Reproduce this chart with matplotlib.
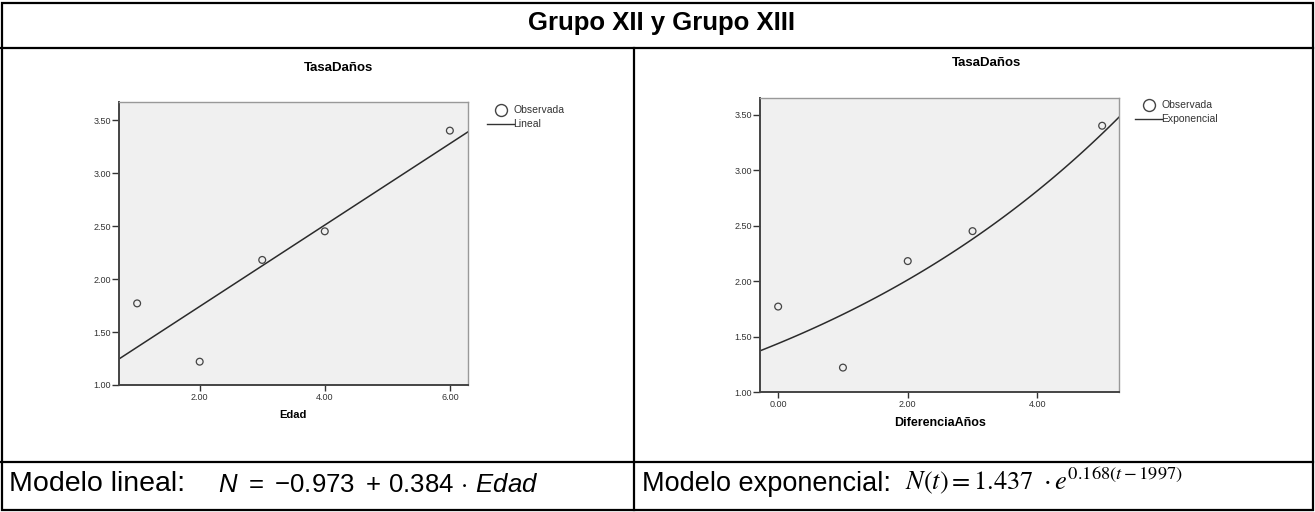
import numpy as np
import matplotlib
matplotlib.use("Agg")
import matplotlib.pyplot as plt
from matplotlib.lines import Line2D
from matplotlib.patches import Rectangle

# Observed damage rate and the two predictors
edad = [1, 2, 3, 4, 6]
diferencia_anos = [0, 1, 2, 3, 5]
tasa_danos = [1.77, 1.22, 2.18, 2.45, 3.40]

# Fitted models
lin_intercept, lin_slope = 0.973, 0.384
exp_a, exp_b = 1.437, 0.168

left_xticks = [2, 4, 6]
right_xticks = [0, 2, 4]
yticks = [1.0, 1.5, 2.0, 2.5, 3.0, 3.5]

W, H = 1315, 512
plt.rcParams["font.family"] = ["Liberation Sans", "DejaVu Sans"]
plt.rcParams["mathtext.fontset"] = "custom"
plt.rcParams["mathtext.rm"] = "Liberation Sans"
plt.rcParams["mathtext.it"] = "Liberation Sans:italic"

fig = plt.figure(figsize=(W / 100, H / 100), dpi=100)


def fx(x):
    return x / W


def fy(y):
    return 1 - y / H


def box(x0, y0, x1, y1):
    return [fx(x0), fy(y1), fx(x1) - fx(x0), fy(y0) - fy(y1)]


# Table frame
fig.add_artist(Rectangle((fx(1.5), fy(509.5)), fx(1311), fy(3) - fy(509.5),
                         transform=fig.transFigure, fill=False,
                         edgecolor="black", linewidth=1.6))
fig.add_artist(Line2D([fx(1), fx(1313)], [fy(48), fy(48)], color="black", lw=1.6))
fig.add_artist(Line2D([fx(1), fx(1313)], [fy(462), fy(462)], color="black", lw=1.6))
fig.add_artist(Line2D([fx(634), fx(634)], [fy(48), fy(510)], color="black", lw=1.6))

fig.text(fx(661), fy(23), "Grupo XII y Grupo XIII", ha="center", va="center",
         fontsize=18.5, fontweight="bold")


def style_axes(ax, xlim, ylim, xticks):
    ax.set_facecolor("#f0f0f0")
    ax.set_xlim(*xlim)
    ax.set_ylim(*ylim)
    ax.set_xticks(xticks)
    ax.set_yticks(yticks)
    ax.xaxis.set_major_formatter(matplotlib.ticker.FormatStrFormatter("%.2f"))
    ax.yaxis.set_major_formatter(matplotlib.ticker.FormatStrFormatter("%.2f"))
    ax.tick_params(axis="both", labelsize=6.5, colors="#333333", width=1.0)
    ax.tick_params(axis="y", length=5, pad=1)
    ax.tick_params(axis="x", length=4, pad=2)
    for side in ("left", "bottom"):
        ax.spines[side].set_color("#444444")
        ax.spines[side].set_linewidth(1.4)
    for side in ("top", "right"):
        ax.spines[side].set_color("#999999")
        ax.spines[side].set_linewidth(1.0)


def legend(x_marker, y_top, label):
    fig.add_artist(Line2D([fx(x_marker)], [fy(y_top)], marker="o", markersize=8.6,
                          markerfacecolor="none", markeredgecolor="#444444",
                          markeredgewidth=1.0, linestyle="none"))
    fig.text(fx(x_marker + 12), fy(y_top), "Observada", ha="left", va="center",
             fontsize=7.5, color="#333333")
    fig.add_artist(Line2D([fx(x_marker - 14), fx(x_marker + 13)],
                          [fy(y_top + 14), fy(y_top + 14)], color="#333333", lw=1.0))
    fig.text(fx(x_marker + 12), fy(y_top + 14), label, ha="left", va="center",
             fontsize=7.5, color="#333333")


# Linear model panel
ax1 = fig.add_axes(box(119, 102, 468, 385))
style_axes(ax1, (0.71, 6.29), (1.0, 3.67), left_xticks)
xs = np.linspace(0.71, 6.29, 50)
ax1.plot(xs, lin_intercept + lin_slope * xs, color="#2b2b2b", lw=1.1, zorder=2)
ax1.scatter(edad, tasa_danos, s=24, facecolors="none", edgecolors="#444444",
            linewidths=0.9, zorder=3, clip_on=False)
fig.text(fx(338), fy(68), "TasaDaños", ha="center", va="center",
         fontsize=9.5, fontweight="bold")
fig.text(fx(293), fy(415), "Edad", ha="center", va="center",
         fontsize=8, fontweight="bold")
legend(501, 110, "Lineal")

# Exponential model panel
ax2 = fig.add_axes(box(760, 98, 1119, 392))
style_axes(ax2, (-0.28, 5.26), (1.0, 3.65), right_xticks)
ts = np.linspace(-0.28, 5.26, 100)
ax2.plot(ts, exp_a * np.exp(exp_b * ts), color="#2b2b2b", lw=1.1, zorder=2)
ax2.scatter(diferencia_anos, tasa_danos, s=24, facecolors="none",
            edgecolors="#444444", linewidths=0.9, zorder=3, clip_on=False)
fig.text(fx(987), fy(63), "TasaDaños", ha="center", va="center",
         fontsize=9.5, fontweight="bold")
fig.text(fx(940), fy(423), "DiferenciaAños", ha="center", va="center",
         fontsize=9, fontweight="bold")
legend(1149, 105, "Exponencial")

# Model equations
fig.text(fx(9), fy(484), "Modelo lineal:", ha="left", va="center", fontsize=20.5)
fig.text(fx(218), fy(485),
         r"$N\ =\ {-}0.973\ +\,0.384\,\cdot\,Edad$",
         ha="left", va="center", fontsize=18.5, math_fontfamily="custom")
fig.text(fx(642), fy(484), "Modelo exponencial:", ha="left", va="center", fontsize=19.5)
fig.text(fx(905), fy(481),
         r"$N(t) = 1.437\ \cdot e^{0.168(t-1997)}$",
         ha="left", va="center", fontsize=19, math_fontfamily="stix")

fig.savefig("out.png", dpi=100)
